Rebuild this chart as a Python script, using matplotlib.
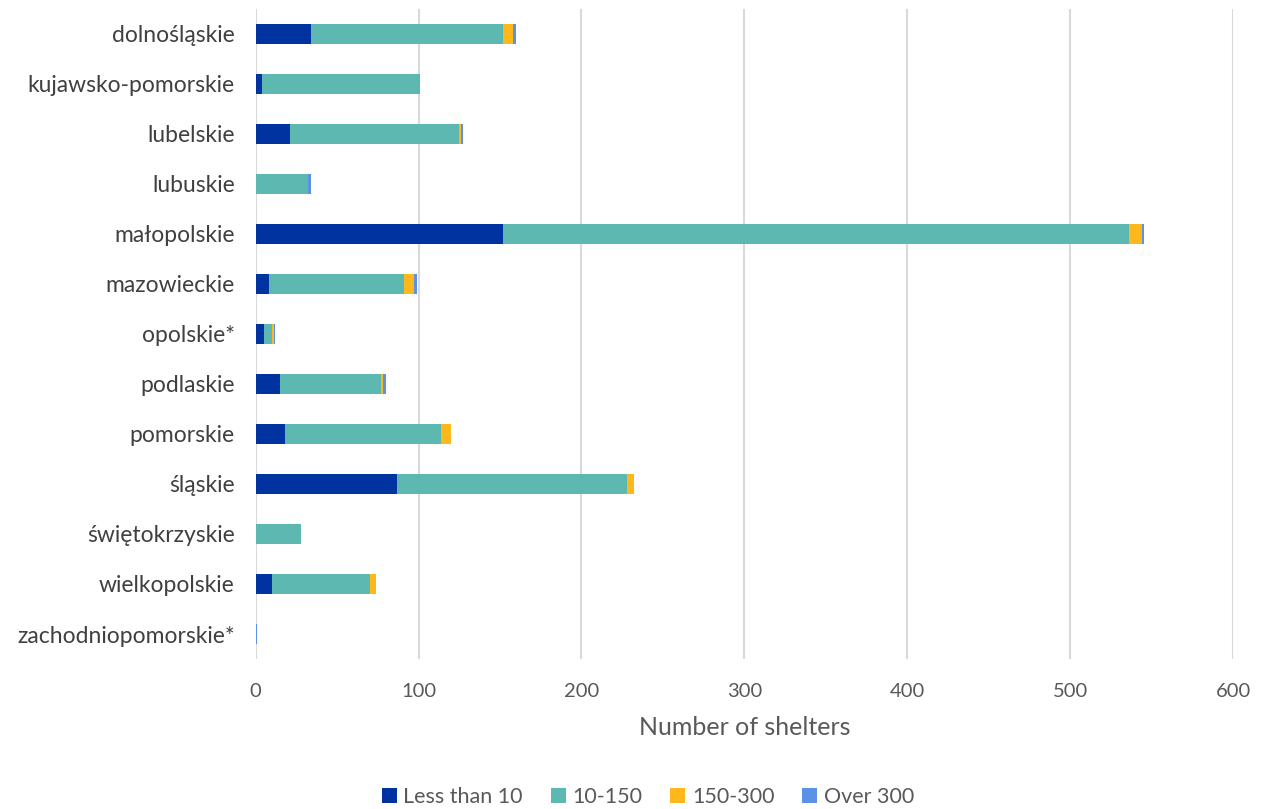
import numpy as np
import matplotlib.pyplot as plt

plt.rcParams['font.family'] = ['Lato', 'DejaVu Sans']

regions = ['dolnośląskie', 'kujawsko-pomorskie', 'lubelskie', 'lubuskie',
           'małopolskie', 'mazowieckie', 'opolskie*', 'podlaskie', 'pomorskie',
           'śląskie', 'świętokrzyskie', 'wielkopolskie', 'zachodniopomorskie*']

less_10 = [34, 4, 21, 0, 152, 8, 5, 15, 18, 87, 0, 10, 0]
from_10_150 = [118, 97, 104, 32, 384, 83, 5, 62, 96, 141, 28, 60, 0]
from_150_300 = [6, 0, 1, 0, 8, 6, 1, 1, 6, 4, 0, 4, 0]
over_300 = [2, 0, 1, 2, 1, 2, 1, 2, 0, 0, 0, 0, 1]

series = [('Less than 10', less_10, '#0033A0'),
          ('10-150', from_10_150, '#5DB8B2'),
          ('150-300', from_150_300, '#FFB81C'),
          ('Over 300', over_300, '#5B92E5')]

fig = plt.figure(figsize=(12.78, 8.09), dpi=100)
ax = fig.add_axes([0.2, 0.1854, 0.765, 0.8036])

y = np.arange(len(regions))
left = np.zeros(len(regions))
for name, vals, col in series:
    vals = np.array(vals, dtype=float)
    ax.barh(y, vals, left=left, height=0.4, color=col, label=name)
    left += vals

ax.set_ylim(len(regions) - 0.5, -0.5)
ax.set_xlim(0, 600)
ax.set_xticks(range(0, 601, 100))
ax.set_yticks(y)
ax.set_yticklabels(regions, fontsize=16.5, color='#404040')
ax.tick_params(axis='x', labelsize=14.5, colors='#595959', pad=17)
ax.tick_params(length=0)
ax.tick_params(axis='y', pad=15)
ax.grid(axis='x', color='#d9d9d9', linewidth=1.5)
ax.set_axisbelow(True)
for s in ax.spines.values():
    s.set_visible(False)

ax.set_xlabel('Number of shelters', fontsize=18, color='#595959', labelpad=12)

fig.legend(loc='lower center', bbox_to_anchor=(0.507, -0.022), ncol=4, frameon=False,
           fontsize=15.5, handlelength=0.7, handleheight=0.7, handletextpad=0.3,
           columnspacing=1.3, labelcolor='#595959')

fig.savefig('out.png', dpi=100)
